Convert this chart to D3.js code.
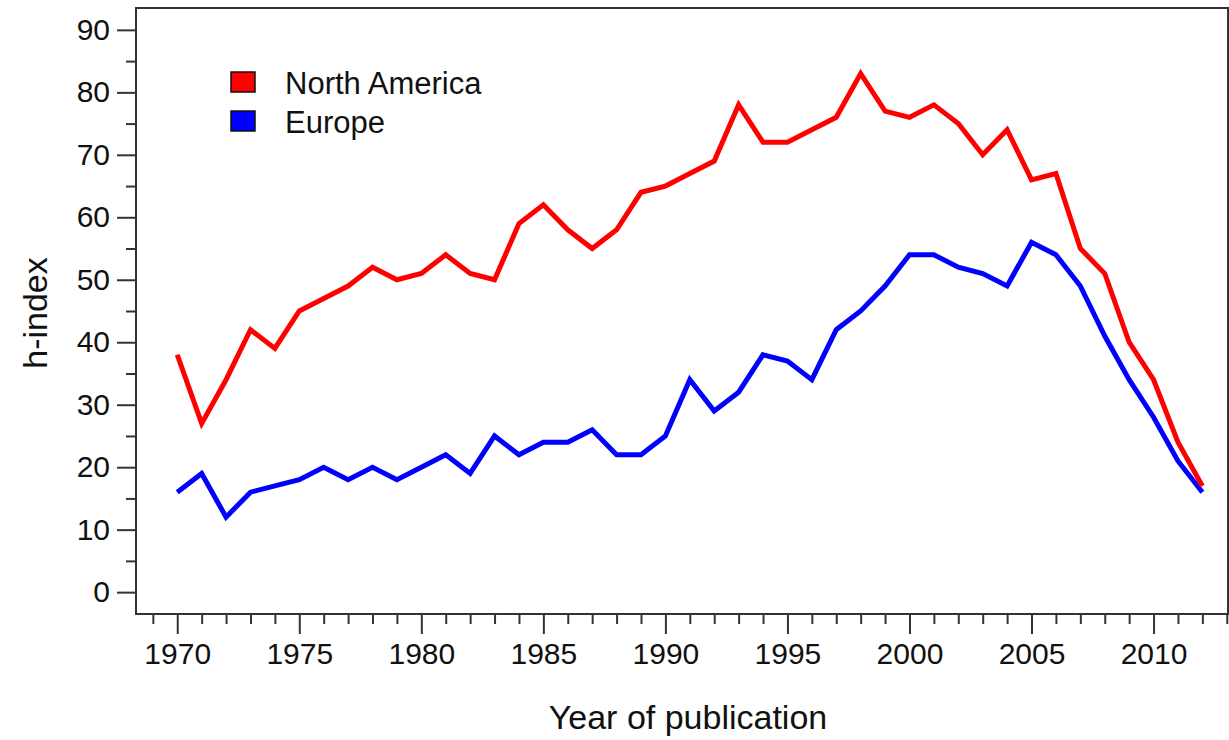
<!DOCTYPE html>
<html>
<head>
<meta charset="utf-8">
<script src="https://cdn.jsdelivr.net/npm/d3@7"></script>
<style>
  body { margin: 0; background: #fff; }
  text { font-family: "Liberation Sans", Arial, sans-serif; }
</style>
</head>
<body>
<div id="svgContainer"></div>
<script>
// h-index by year of publication
var years = d3.range(1970, 2013);
var northAmerica = [38,27,34,42,39,45,47,49,52,50,51,54,51,50,59,62,58,55,58,64,
                    65,67,69,78,72,72,74,76,83,77,76,78,75,70,74,66,67,55,51,40,
                    34,24,17];
var europe = [16,19,12,16,17,18,20,18,20,18,20,22,19,25,22,24,24,26,22,22,
              25,34,29,32,38,37,34,42,45,49,54,54,52,51,49,56,54,49,41,34,
              28,21,16];
var seriesNames = ["North America", "Europe"];
var seriesColors = ["#ff0000", "#0000ff"];
var yTicks = [0,10,20,30,40,50,60,70,80,90];
var xTicks = [1970,1975,1980,1985,1990,1995,2000,2005,2010];

var svgWidth = 1229, svgHeight = 740;
var margin = {top: 8, left: 136, right: 1, bottom: 126};
var width = svgWidth - margin.left - margin.right;
var height = svgHeight - margin.top - margin.bottom;

var svg = d3.select("#svgContainer").append("svg")
    .attr("width", svgWidth)
    .attr("height", svgHeight);

var x = d3.scaleLinear().domain([1968.31, 2013.05]).range([margin.left, margin.left + width]);
var y = d3.scaleLinear().domain([-3.5, 93.5]).range([margin.top + height, margin.top]);

var axisColor = "#333";

// minor ticks
svg.append("g")
    .attr("transform", "translate(" + margin.left + ",0)")
    .call(d3.axisLeft(y).tickValues(d3.range(5, 95, 10)).tickSize(10).tickFormat(""))
    .call(g => g.select(".domain").remove())
    .selectAll("line").attr("stroke", axisColor).attr("stroke-width", 2);

svg.append("g")
    .attr("transform", "translate(0," + (margin.top + height) + ")")
    .call(d3.axisBottom(x).tickValues(d3.range(1969, 2014).filter(v => v % 5 != 0)).tickSize(10).tickFormat(""))
    .call(g => g.select(".domain").remove())
    .selectAll("line").attr("stroke", axisColor).attr("stroke-width", 2);

// major ticks
var yAxis = svg.append("g")
    .attr("transform", "translate(" + margin.left + ",0)")
    .call(d3.axisLeft(y).tickValues(yTicks).tickSize(19).tickPadding(7));
yAxis.select(".domain").remove();
yAxis.selectAll("line").attr("stroke", axisColor).attr("stroke-width", 2);
yAxis.selectAll("text").attr("font-size", 30).attr("fill", "#111");

var xAxis = svg.append("g")
    .attr("transform", "translate(0," + (margin.top + height) + ")")
    .call(d3.axisBottom(x).tickValues(xTicks).tickSize(20).tickPadding(9).tickFormat(d3.format("d")));
xAxis.select(".domain").remove();
xAxis.selectAll("line").attr("stroke", axisColor).attr("stroke-width", 2);
xAxis.selectAll("text").attr("font-size", 30).attr("fill", "#111");

// frame
svg.append("rect")
    .attr("x", margin.left)
    .attr("y", margin.top)
    .attr("width", width)
    .attr("height", height)
    .attr("fill", "none")
    .attr("stroke", axisColor)
    .attr("stroke-width", 2);

// lines
var line = d3.line()
    .x(function(d, i){ return x(years[i]); })
    .y(function(d){ return y(d); });

[europe, northAmerica].forEach(function(s, i){
    svg.append("path")
        .datum(s)
        .attr("d", line)
        .attr("fill", "none")
        .attr("stroke", seriesColors[1 - i])
        .attr("stroke-width", 5);
});

// legend
var legend = svg.selectAll(".legend")
    .data(seriesNames)
    .enter().append("g")
    .attr("class", "legend")
    .attr("transform", function(d, i){ return "translate(231," + (72 + i * 39) + ")"; });

legend.append("rect")
    .attr("width", 24)
    .attr("height", 20)
    .attr("fill", function(d, i){ return seriesColors[i]; })
    .attr("stroke", "#111")
    .attr("stroke-width", 1.5);

legend.append("text")
    .attr("x", 54)
    .attr("y", 11)
    .attr("dy", "0.35em")
    .attr("font-size", 31)
    .attr("fill", "#111")
    .text(function(d){ return d; });

// axis titles
svg.append("text")
    .attr("x", 688)
    .attr("y", 729)
    .attr("text-anchor", "middle")
    .attr("font-size", 34)
    .attr("fill", "#111")
    .text("Year of publication");

svg.append("text")
    .attr("transform", "translate(47,313) rotate(-90)")
    .attr("text-anchor", "middle")
    .attr("font-size", 34)
    .attr("fill", "#111")
    .text("h-index");
</script>
</body>
</html>
